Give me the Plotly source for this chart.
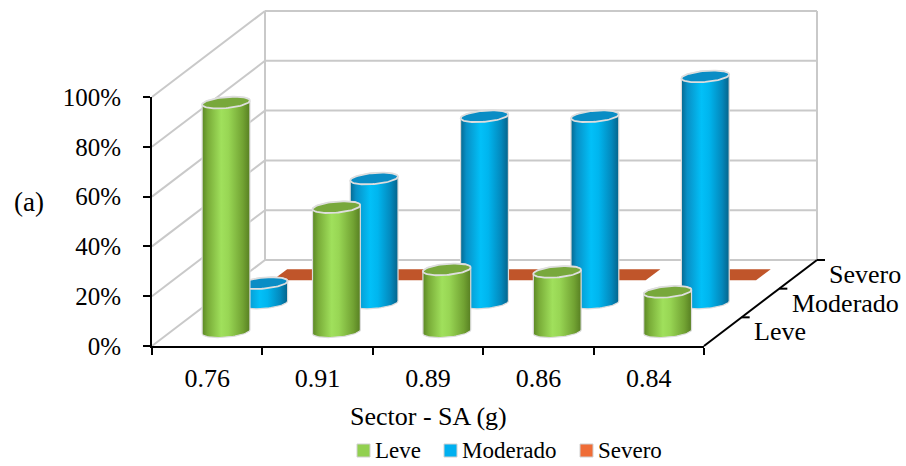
import numpy as np
import plotly.graph_objects as go

# ---- data -------------------------------------------------------------
categories = ["0.76", "0.91", "0.89", "0.86", "0.84"]
series_names = ["Leve", "Moderado", "Severo"]
leve = [92, 50, 25, 24, 16]
moderado = [8, 50, 75, 75, 91]
severo = [0, 0, 0, 0, 0]
y_ticks = [0, 20, 40, 60, 80, 100]

# ---- page / plot geometry (pixels) -------------------------------------
W, H = 906, 466
X0, X1 = 152, 704          # front plane, left/right
Y0, Y1 = 346, 97           # front plane, 0% / 100%
CAT_PX = (X1 - X0) / len(categories)
PCT_PX = (Y0 - Y1) / 100.0
DEPTH_PX = (113.0, 86.0)   # oblique offset of the full depth
D_X = DEPTH_PX[0] / CAT_PX
D_Y = DEPTH_PX[1] / PCT_PX

R_PX, RY_PX, TILT = 24.0, 5.5, np.radians(5)

FONT = "Liberation Serif, Times New Roman, serif"
GRID = "#c9c9c9"

GREEN_SCALE = [[0, "#5b8724"], [0.12, "#79ac38"], [0.4, "#a0e05c"],
               [0.55, "#98d654"], [0.85, "#72a333"], [1, "#577f22"]]
BLUE_SCALE = [[0, "#06688f"], [0.12, "#0890c6"], [0.42, "#02c0f8"],
              [0.58, "#00b5ee"], [0.85, "#0388bc"], [1, "#05638a"]]
STYLE = {
    "Leve": dict(scale=GREEN_SCALE, top="#78a83c", legend="#92d050"),
    "Moderado": dict(scale=BLUE_SCALE, top="#0a8dc5", legend="#00b0f0"),
    "Severo": dict(strip="#c0552a", legend="#ef6c36"),
}


def proj(u, v, d):
    """Oblique projection: category u, value v, depth d (0 front .. 1 back)."""
    return u + d * D_X, v + d * D_Y


def ellipse(cu, cv, t):
    ex, ey = R_PX * np.cos(t), RY_PX * np.sin(t)
    xr = ex * np.cos(TILT) - ey * np.sin(TILT)
    yr = ex * np.sin(TILT) + ey * np.cos(TILT)
    return cu + xr / CAT_PX, cv + yr / PCT_PX


fig = go.Figure()

# ---- walls and gridlines -----------------------------------------------
gx, gy = [], []
for v in y_ticks:
    for a, b in [(proj(-0.5, v, 0), proj(-0.5, v, 1)),
                 (proj(-0.5, v, 1), proj(len(categories) - 0.5, v, 1))]:
        gx += [a[0], b[0], None]
        gy += [a[1], b[1], None]
for u in (-0.5, len(categories) - 0.5):
    a, b = proj(u, 0, 1), proj(u, 100, 1)
    gx += [a[0], b[0], None]
    gy += [a[1], b[1], None]
fig.add_trace(go.Scatter(x=gx, y=gy, mode="lines",
                         line=dict(color=GRID, width=2),
                         hoverinfo="skip", showlegend=False))

# ---- depth (series) axis -----------------------------------------------
dx, dy = [], []
a, b = proj(len(categories) - 0.5, 0, 0), proj(len(categories) - 0.5, 0, 1)
dx += [a[0], b[0], None]
dy += [a[1], b[1], None]
for k in range(1, len(series_names) + 1):
    p = proj(len(categories) - 0.5, 0, k / len(series_names))
    dx += [p[0], p[0] + 8 / CAT_PX, None]
    dy += [p[1], p[1], None]
fig.add_trace(go.Scatter(x=dx, y=dy, mode="lines",
                         line=dict(color="black", width=2),
                         hoverinfo="skip", showlegend=False))


def add_cylinder(i, value, depth, style):
    cu, base = proj(i, 0, depth)
    top = base + value
    tb = np.linspace(np.pi, 2 * np.pi, 40)
    tt = np.linspace(0, np.pi, 40)
    bx, by = ellipse(cu, base, tb)
    tx, ty = ellipse(cu, top, tt)
    fig.add_trace(go.Scatter(
        x=np.concatenate([bx, tx, bx[:1]]), y=np.concatenate([by, ty, by[:1]]),
        mode="lines", fill="toself",
        fillgradient=dict(type="horizontal", colorscale=style["scale"]),
        line=dict(color="#dcdcdc", width=1.2),
        hoverinfo="skip", showlegend=False))
    t = np.linspace(0, 2 * np.pi, 80)
    ex, ey = ellipse(cu, top, t)
    fig.add_trace(go.Scatter(x=ex, y=ey, mode="lines", fill="toself",
                             fillcolor=style["top"],
                             line=dict(color="#dedede", width=1.8),
                             hoverinfo="skip", showlegend=False))


def add_strip(i, value, depth, style):
    hw = 21 / CAT_PX
    d0, d1 = depth - 0.07, depth + 0.06
    pts = [proj(i - hw, value, d0), proj(i + hw, value, d0),
           proj(i + hw, value, d1), proj(i - hw, value, d1),
           proj(i - hw, value, d0)]
    fig.add_trace(go.Scatter(x=[p[0] for p in pts], y=[p[1] for p in pts],
                             mode="lines", fill="toself",
                             fillcolor=style["strip"],
                             line=dict(color=style["strip"], width=0),
                             hoverinfo="skip", showlegend=False))


series_values = {"Leve": leve, "Moderado": moderado, "Severo": severo}
n = len(series_names)
# back row first so nearer rows overlap it
for k in reversed(range(n)):
    name = series_names[k]
    depth = (k + 0.5) / n
    for i, val in enumerate(series_values[name]):
        if name == "Severo":
            add_strip(i, val, depth, STYLE[name])
        else:
            add_cylinder(i, val, depth, STYLE[name])

# empty trace so the front-axis subplot exists
fig.add_trace(go.Scatter(x=categories, y=[None] * len(categories),
                         xaxis="x2", yaxis="y2", mode="markers",
                         hoverinfo="skip", showlegend=False))

annotations = []
# series labels along the depth axis
for k, name in enumerate(series_names):
    p = proj(len(categories) - 0.5, 0, (k + 0.5) / n)
    annotations.append(dict(x=p[0], y=p[1], xref="x", yref="y", text=name,
                            showarrow=False, xanchor="left", yanchor="middle",
                            xshift=29, font=dict(family=FONT, size=26, color="black")))
annotations.append(dict(x=(X0 + X1) / 2 / W, y=1 - 416 / H, xref="paper", yref="paper",
                        text="Sector - SA (g)", showarrow=False,
                        xanchor="center", yanchor="middle",
                        font=dict(family=FONT, size=26, color="black")))
annotations.append(dict(x=29 / W, y=1 - 202 / H, xref="paper", yref="paper",
                        text="(a)", showarrow=False, xanchor="center", yanchor="middle",
                        font=dict(family=FONT, size=27, color="black")))

# legend: swatch + label
shapes = []
legend_x = {"Leve": 357, "Moderado": 444, "Severo": 580}
for name in series_names:
    x = legend_x[name]
    shapes.append(dict(type="rect", xref="paper", yref="paper",
                       x0=x / W, x1=(x + 13) / W, y0=1 - 457 / H, y1=1 - 444 / H,
                       fillcolor=STYLE[name]["legend"],
                       line=dict(color="#d0d0d0", width=1)))
    annotations.append(dict(x=(x + 16) / W, y=1 - 450 / H, xref="paper", yref="paper",
                            text=name, showarrow=False, xanchor="left", yanchor="middle",
                            font=dict(family=FONT, size=23, color="black")))

fig.update_layout(
    template="none",
    width=W, height=H, margin=dict(l=0, r=0, t=0, b=0, pad=0, autoexpand=False),
    paper_bgcolor="white", plot_bgcolor="rgba(0,0,0,0)",
    showlegend=False,
    xaxis=dict(range=[(0 - X0) / CAT_PX - 0.5, (W - X0) / CAT_PX - 0.5],
               domain=[0, 1], visible=False, fixedrange=True, automargin=False),
    yaxis=dict(range=[(Y0 - H) / PCT_PX, Y0 / PCT_PX],
               domain=[0, 1], visible=False, fixedrange=True, automargin=False),
    xaxis2=dict(domain=[X0 / W, X1 / W], anchor="y2", type="category",
                categoryorder="array", categoryarray=categories,
                range=[-0.5, len(categories) - 0.5], tickson="boundaries",
                ticks="outside", ticklen=7, tickwidth=2, tickcolor="black",
                showline=True, linecolor="black", linewidth=2, showgrid=False,
                zeroline=False, ticklabelstandoff=8, automargin=False,
                tickfont=dict(family=FONT, size=26, color="black"), fixedrange=True),
    yaxis2=dict(domain=[(H - Y0) / H, (H - Y1) / H], anchor="x2",
                range=[0, 100], tickvals=y_ticks,
                ticktext=[f"{v}%" for v in y_ticks],
                ticks="outside", ticklen=7, tickwidth=2, tickcolor="black",
                showline=True, linecolor="black", linewidth=2, showgrid=False,
                zeroline=False, ticklabelstandoff=17, automargin=False,
                tickfont=dict(family=FONT, size=25, color="black"), fixedrange=True),
    annotations=annotations,
    shapes=shapes,
)

fig.write_html("out.html")
